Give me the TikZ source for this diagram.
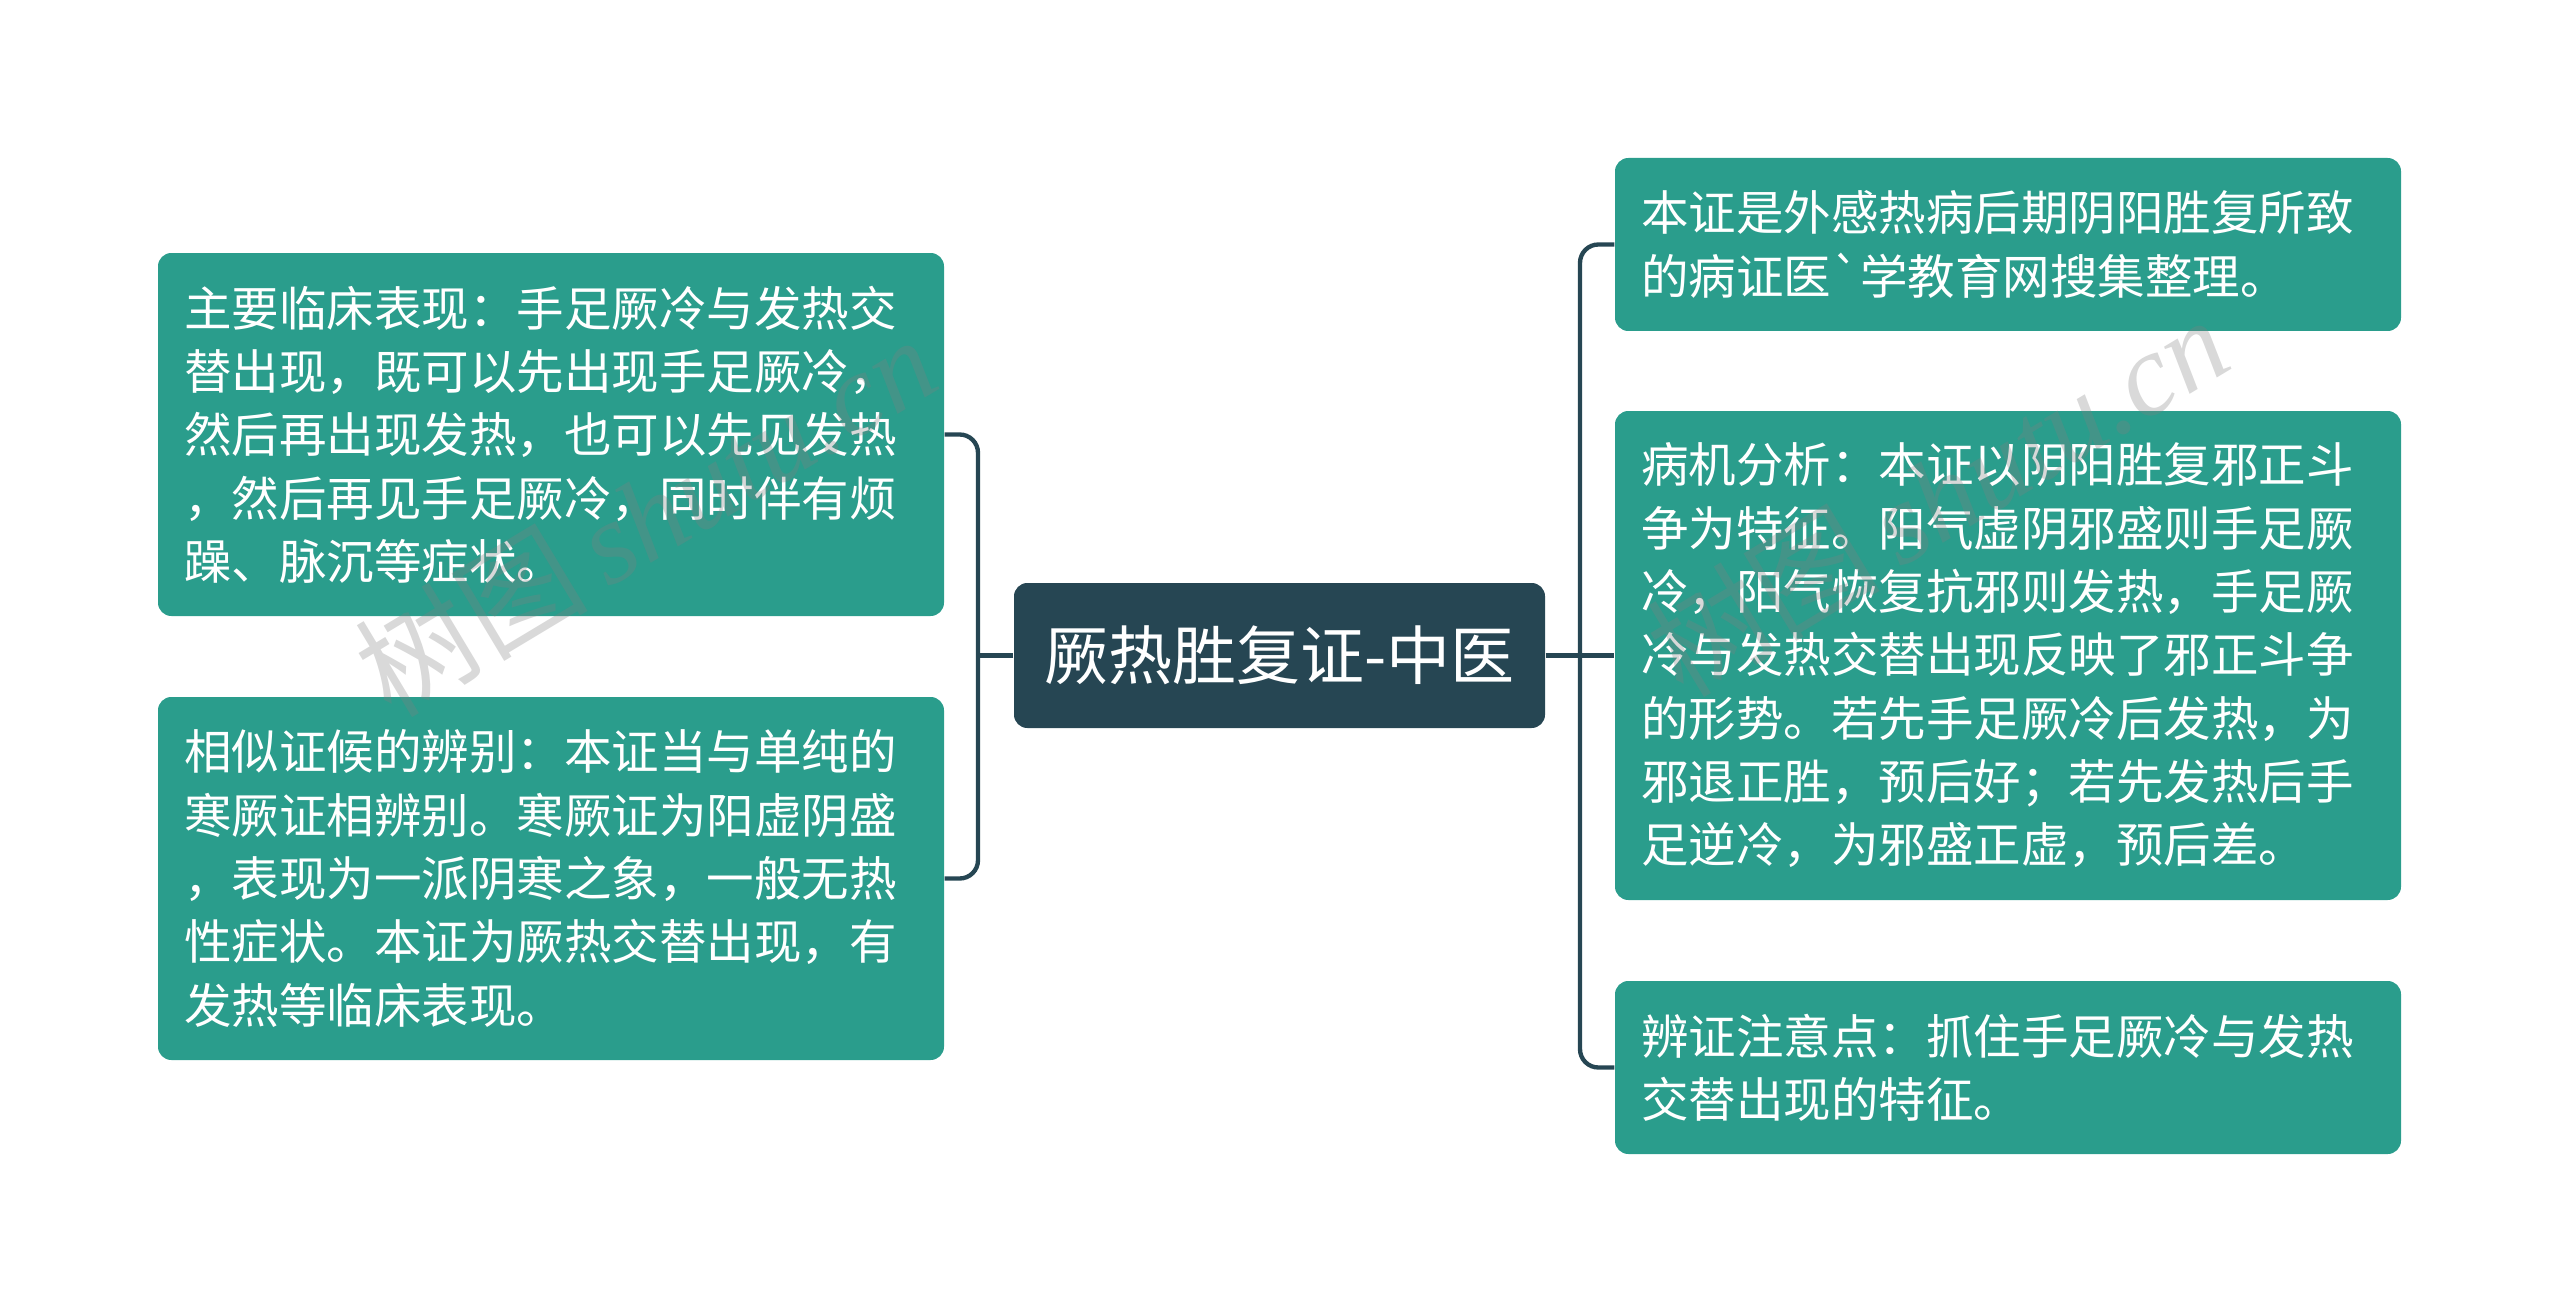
\documentclass[tikz,border=0pt]{standalone}
\usepackage{fontspec}
\setmainfont{Noto Sans CJK SC}
\newfontfamily\wmserif{Liberation Serif}
\definecolor{leafteal}{HTML}{2A9D8C}
\definecolor{rootdark}{HTML}{264653}
\begin{document}
\begin{tikzpicture}[x=0.3pt,y=-0.3pt,
  leaf/.style={fill=leafteal, rounded corners=4pt, text=white,
    font=\fontsize{14.25pt}{19pt}\selectfont, align=left,
    text width=220pt, inner xsep=7.9pt, inner ysep=0pt, minimum width=235.8pt},
  root/.style={fill=rootdark, rounded corners=4pt, text=white,
    font=\fontsize{19.2pt}{22pt}\selectfont,
    minimum width=159.3pt, minimum height=43.5pt, inner sep=0pt},
  conn/.style={draw=rootdark, line width=1.3pt, rounded corners=5.5pt},
  wm/.style={text=black!50, opacity=0.3, rotate=31, inner sep=0pt}]
\useasboundingbox (0,0) rectangle (2560,1314);
\node[root] (c) at (1279.5,655.5) {厥热胜复证-中医};
\node[leaf, minimum height=108.9pt] (lt) at (551,434.5) {主要临床表现：手足厥冷与发热交\\替出现，既可以先出现手足厥冷，\\然后再出现发热，也可以先见发热\\，然后再见手足厥冷，同时伴有烦\\躁、脉沉等症状。};
\node[leaf, minimum height=108.9pt] (lb) at (551,878.5) {相似证候的辨别：本证当与单纯的\\寒厥证相辨别。寒厥证为阳虚阴盛\\，表现为一派阴寒之象，一般无热\\性症状。本证为厥热交替出现，有\\发热等临床表现。};
\node[leaf, minimum height=51.9pt] (rt) at (2008,244.5) {本证是外感热病后期阴阳胜复所致\\的病证医\textasciigrave 学教育网搜集整理。};
\node[leaf, minimum height=146.7pt] (rm) at (2008,655.5) {病机分析：本证以阴阳胜复邪正斗\\争为特征。阳气虚阴邪盛则手足厥\\冷，阳气恢复抗邪则发热，手足厥\\冷与发热交替出现反映了邪正斗争\\的形势。若先手足厥冷后发热，为\\邪退正胜，预后好；若先发热后手\\足逆冷，为邪盛正虚，预后差。};
\node[leaf, minimum height=51.9pt] (rb) at (2008,1067.5) {辨证注意点：抓住手足厥冷与发热\\交替出现的特征。};
\coordinate (jl) at (978,655.5);
\coordinate (jr) at (1580,655.5);
\draw[conn] (c.west) -- (jl);
\draw[conn] (lt.east) -| (jl) |- (lb.east);
\draw[conn] (c.east) -- (rm.west);
\draw[conn] (rt.west) -| (jr) |- (rb.west);
\node[wm] (wm1) at (645,515) {\fontsize{35pt}{35pt}\selectfont 树图\,{\wmserif\itshape shutu.cn}};
\node[wm] (wm2) at (1937,495) {\fontsize{35pt}{35pt}\selectfont 树图\,{\wmserif\itshape shutu.cn}};
\end{tikzpicture}
\end{document}
